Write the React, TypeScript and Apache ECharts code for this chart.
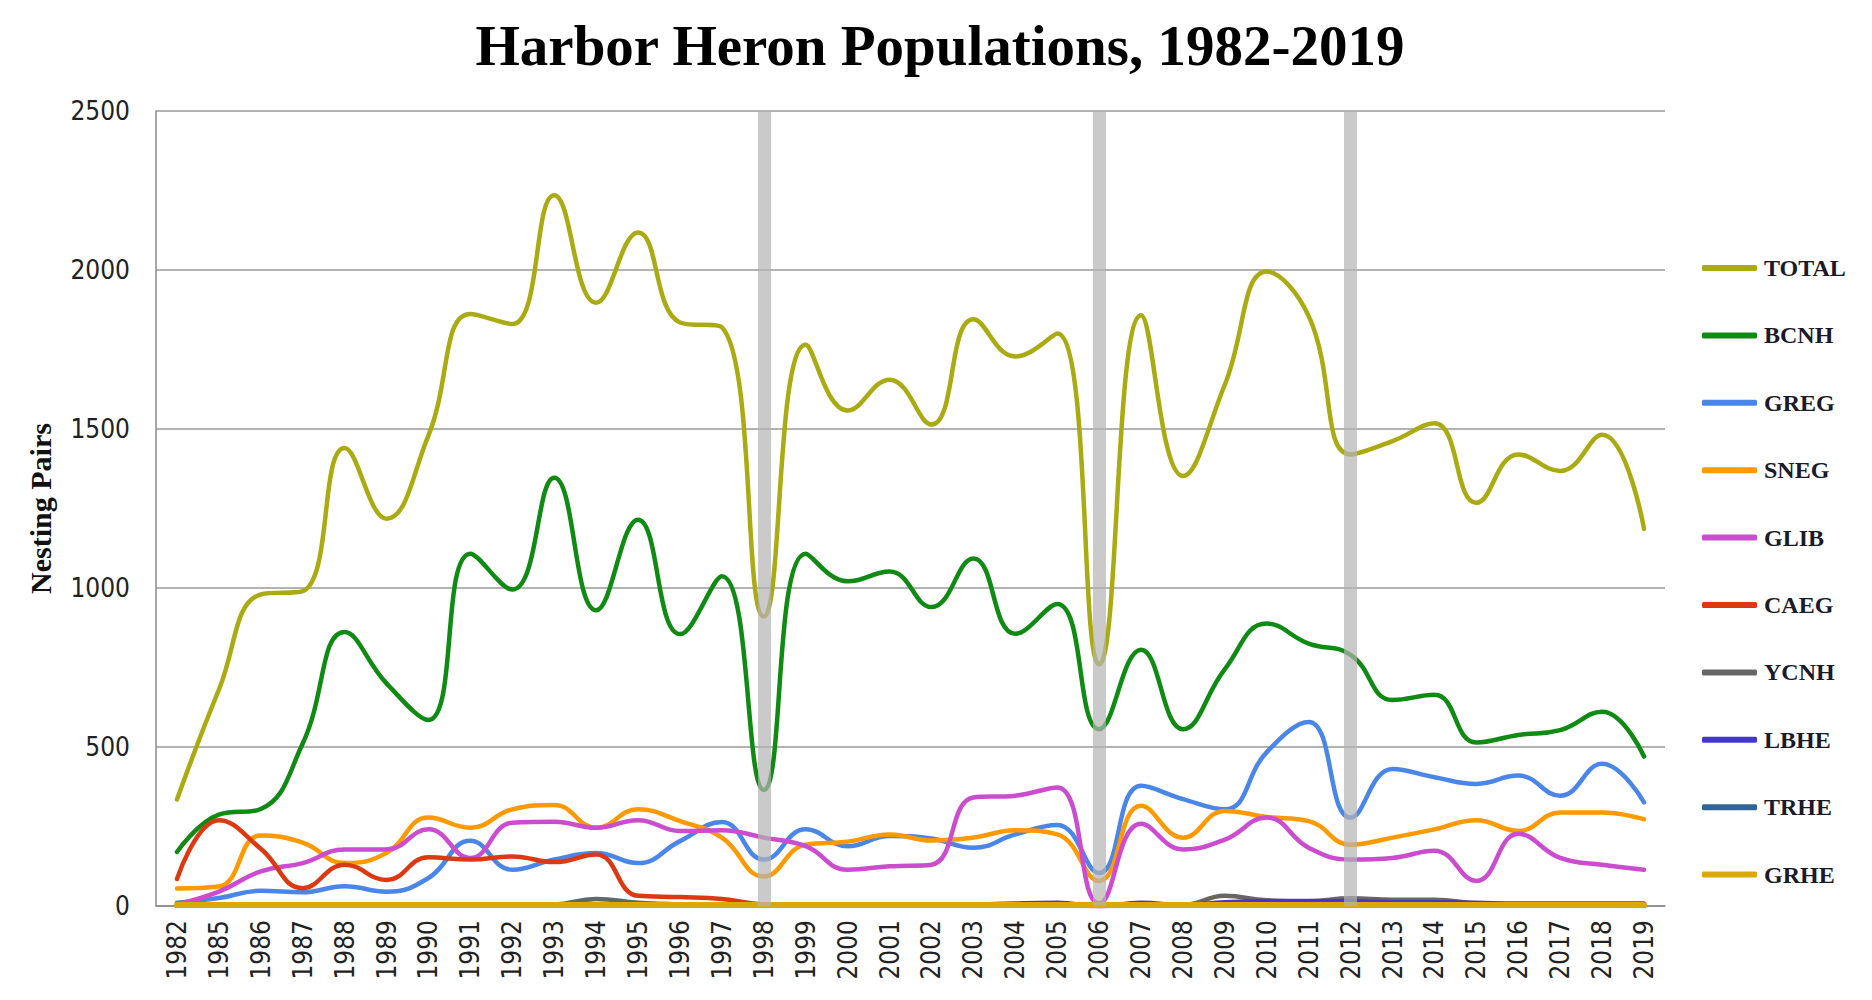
import React, { useEffect, useRef } from "react";
import * as echarts from "echarts";

const years = [
  "1982", "1985", "1986", "1987", "1988", "1989", "1990", "1991", "1992", "1993",
  "1994", "1995", "1996", "1997", "1998", "1999", "2000", "2001", "2002", "2003",
  "2004", "2005", "2006", "2007", "2008", "2009", "2010", "2011", "2012", "2013",
  "2014", "2015", "2016", "2017", "2018", "2019",
];

const TOTAL = [335, 680, 980, 990, 1440, 1218, 1480, 1862, 1830, 2235, 1897, 2118, 1835, 1820, 910, 1765, 1558, 1655, 1514, 1845, 1728, 1800, 760, 1858, 1352, 1640, 1995, 1855, 1420, 1462, 1518, 1268, 1420, 1368, 1482, 1186];
const BCNH = [170, 287, 305, 511, 862, 700, 585, 1108, 995, 1347, 930, 1215, 855, 1037, 365, 1108, 1021, 1052, 940, 1093, 856, 950, 556, 806, 556, 745, 888, 825, 790, 648, 664, 514, 538, 553, 611, 470];
const GREG = [10, 25, 48, 43, 62, 45, 88, 205, 114, 146, 167, 135, 204, 264, 146, 241, 188, 220, 212, 183, 225, 255, 104, 378, 336, 304, 484, 579, 278, 431, 405, 384, 410, 347, 447, 326];
const SNEG = [55, 61, 222, 199, 135, 167, 278, 246, 304, 318, 246, 304, 267, 215, 93, 193, 202, 225, 206, 215, 238, 225, 79, 315, 215, 299, 280, 267, 193, 215, 241, 270, 236, 294, 294, 273];
const GLIB = [5, 45, 109, 135, 178, 178, 241, 151, 262, 265, 246, 270, 236, 238, 215, 188, 114, 125, 130, 341, 347, 373, 8, 259, 178, 209, 278, 183, 146, 151, 174, 79, 227, 151, 130, 114];
const CAEG = [85, 270, 180, 56, 130, 82, 153, 146, 156, 138, 162, 32, 28, 22, 5, 3, 2, 1, 1, 1, 1, 1, 0, 1, 1, 1, 1, 1, 1, 1, 1, 1, 1, 1, 1, 1];
const YCNH = [2, 2, 2, 3, 3, 3, 3, 3, 3, 5, 22, 10, 5, 4, 2, 2, 2, 2, 2, 3, 3, 3, 0, 3, 3, 32, 18, 16, 24, 20, 20, 8, 4, 3, 3, 3];
const LBHE = [1, 1, 1, 1, 1, 1, 1, 1, 1, 1, 1, 1, 1, 1, 1, 2, 2, 2, 3, 4, 8, 10, 0, 10, 3, 12, 15, 15, 15, 12, 12, 10, 8, 8, 8, 8];
const TRHE = [0, 0, 0, 0, 0, 0, 0, 0, 0, 0, 0, 0, 0, 0, 0, 0, 0, 0, 0, 0, 0, 0, 0, 0, 0, 0, 0, 0, 0, 0, 0, 0, 0, 0, 0, 0];
const GRHE = [3, 3, 3, 3, 3, 3, 3, 3, 3, 3, 3, 3, 3, 3, 3, 3, 3, 3, 3, 3, 3, 3, 3, 3, 3, 3, 3, 3, 3, 3, 3, 3, 3, 3, 3, 3];

const seriesNames = ["TOTAL", "BCNH", "GREG", "SNEG", "GLIB", "CAEG", "YCNH", "LBHE", "TRHE", "GRHE"];
const seriesData = [TOTAL, BCNH, GREG, SNEG, GLIB, CAEG, YCNH, LBHE, TRHE, GRHE];
const seriesColors = ["#aaaa11", "#0f8a12", "#4a86e8", "#ff9900", "#cc4ccf", "#dc3912", "#666666", "#4437cc", "#316395", "#d9a90a"];
const highlightYears = ["1998", "2006", "2012"];

const yTicks = { min: 0, max: 2500, interval: 500 };

export default function App() {
  const ref = useRef<HTMLDivElement>(null);
  useEffect(() => {
    document.body.style.margin = "0";
    if (!ref.current) return;
    const chart = echarts.init(ref.current, undefined, { renderer: "svg" });
    const tickFont = '"DejaVu Sans Condensed", "DejaVu Sans", sans-serif';
    const serif = '"Liberation Serif", "Times New Roman", serif';
    const series: any[] = seriesNames.map((name, i) => ({
      name,
      type: "line",
      data: seriesData[i],
      smooth: 0.45,
      symbol: "none",
      showSymbol: false,
      color: seriesColors[i],
      lineStyle: { width: name === "GRHE" ? 6 : 4.5, color: seriesColors[i], cap: "round", join: "round" },
    }));
    series.push({
      name: "highlight",
      type: "line",
      data: [],
      symbol: "none",
      markLine: {
        silent: true,
        symbol: ["none", "none"],
        label: { show: false },
        z: 10,
        lineStyle: { color: "rgba(180,180,180,0.7)", width: 13, type: "solid" },
        data: highlightYears.map((y) => ({ xAxis: y })),
      },
    });
    chart.setOption({
      animation: false,
      backgroundColor: "#ffffff",
      title: {
        text: "Harbor Heron Populations, 1982-2019",
        left: 935,
        textAlign: "center",
        top: 12,
        textStyle: { fontFamily: serif, fontWeight: "bold", fontSize: 57, color: "#000" },
      },
      legend: {
        orient: "vertical",
        left: 1697,
        top: 251,
        data: seriesNames,
        icon: "roundRect",
        itemWidth: 55,
        itemHeight: 6,
        itemGap: 43.4,
        textStyle: { fontFamily: serif, fontWeight: "bold", fontSize: 24, color: "#1a1a2a", height: 24, lineHeight: 24, padding: [0, 0, 0, 2] },
      },
      grid: { left: 156, right: 207, top: 111, bottom: 94, containLabel: false },
      xAxis: {
        type: "category",
        data: years,
        boundaryGap: true,
        axisLine: { show: true, lineStyle: { color: "#8a8a8a", width: 1.5 } },
        axisTick: { show: false },
        axisLabel: { interval: 0, rotate: 90, fontFamily: tickFont, fontSize: 26, color: "#222", margin: 14 },
        splitLine: { show: false },
      },
      yAxis: {
        type: "value",
        min: yTicks.min,
        max: yTicks.max,
        interval: yTicks.interval,
        name: "Nesting Pairs",
        nameLocation: "middle",
        nameRotate: 90,
        nameGap: 101,
        nameTextStyle: { fontFamily: serif, fontWeight: "bold", fontSize: 30, color: "#111" },
        axisLine: { show: true, lineStyle: { color: "#8a8a8a", width: 1.5 } },
        axisTick: { show: false },
        axisLabel: { fontFamily: tickFont, fontSize: 26, color: "#222", margin: 26, formatter: (v: number) => String(v) },
        splitLine: { show: true, lineStyle: { color: "#9a9a9a", width: 1.5 } },
      },
      series,
    });
    return () => chart.dispose();
  }, []);
  return <div ref={ref} style={{ width: 1872, height: 1000 }} />;
}
